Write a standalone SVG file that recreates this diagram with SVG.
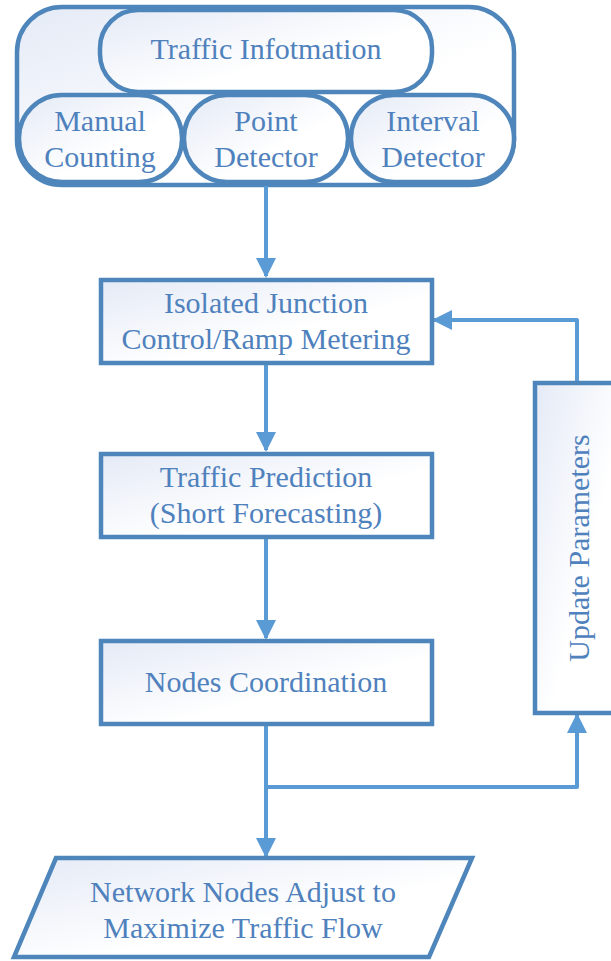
<svg xmlns="http://www.w3.org/2000/svg" width="611" height="961" viewBox="0 0 611 961" font-family="'Liberation Serif', 'DejaVu Serif', serif">
<defs>
<linearGradient id="g" x1="0" y1="0" x2="1" y2="1">
<stop offset="0" stop-color="#e4eaf6"/>
<stop offset="0.6" stop-color="#ffffff"/>
<stop offset="1" stop-color="#ffffff"/>
</linearGradient>
<marker id="ah" markerWidth="5" markerHeight="5" refX="4.5" refY="2.5" orient="auto" markerUnits="strokeWidth">
<path d="M0,0 L5,2.5 L0,5 Z" fill="#5b9bd5"/>
</marker>
<style>
.box{fill:url(#g);stroke:#4e86bb;stroke-width:4.5;}
.t{font-family:'Liberation Serif','Times New Roman',serif;font-size:30px;fill:#4f81bd;text-anchor:middle;}
.c{fill:none;stroke:#5b9bd5;stroke-width:4;stroke-linejoin:round;}
</style>
</defs>
<g id="info">
<rect class="box" x="17" y="7" width="497" height="178" rx="45"/>
<rect class="box" x="100" y="10" width="332" height="82" rx="38"/>
<text class="t" font-family="Liberation Serif, serif" x="266" y="59">Traffic Infotmation</text>
</g>
<g id="manual">
<rect class="box" x="19" y="95" width="163" height="87" rx="43"/>
<text class="t" font-family="Liberation Serif, serif" x="100" y="131">Manual</text>
<text class="t" font-family="Liberation Serif, serif" x="100" y="167">Counting</text>
</g>
<g id="point">
<rect class="box" x="184" y="95" width="164" height="87" rx="43"/>
<text class="t" font-family="Liberation Serif, serif" x="266" y="131">Point</text>
<text class="t" font-family="Liberation Serif, serif" x="266" y="167">Detector</text>
</g>
<g id="interval">
<rect class="box" x="351" y="95" width="163" height="87" rx="43"/>
<text class="t" font-family="Liberation Serif, serif" x="433" y="131">Interval</text>
<text class="t" font-family="Liberation Serif, serif" x="433" y="167">Detector</text>
</g>
<g id="connectors">
<path class="c" d="M266,186 L266,276" marker-end="url(#ah)"/>
<path class="c" d="M266,365 L266,450" marker-end="url(#ah)"/>
<path class="c" d="M266,539 L266,638" marker-end="url(#ah)"/>
<path class="c" d="M266,726 L266,856" marker-end="url(#ah)"/>
<path class="c" d="M266,787 L577,787 L577,715" marker-end="url(#ah)"/>
<path class="c" d="M577,382 L577,320 L434,320" marker-end="url(#ah)"/>
</g>
<g id="ijc">
<rect class="box" x="101" y="280" width="331" height="83"/>
<text class="t" font-family="Liberation Serif, serif" x="266" y="313">Isolated Junction</text>
<text class="t" font-family="Liberation Serif, serif" x="266" y="349">Control/Ramp Metering</text>
</g>
<g id="prediction">
<rect class="box" x="101" y="454" width="331" height="83"/>
<text class="t" font-family="Liberation Serif, serif" x="266" y="487">Traffic Prediction</text>
<text class="t" font-family="Liberation Serif, serif" x="266" y="523">(Short Forecasting)</text>
</g>
<g id="coordination">
<rect class="box" x="101" y="641" width="331" height="83"/>
<text class="t" font-family="Liberation Serif, serif" x="266" y="692">Nodes Coordination</text>
</g>
<g id="update">
<rect class="box" x="535" y="383" width="82" height="330"/>
<text class="t" font-family="Liberation Serif, serif" transform="translate(589,548) rotate(-90)" x="0" y="0">Update Parameters</text>
</g>
<g id="network">
<polygon class="box" points="56,858 472,858 429,957 14,957"/>
<text class="t" font-family="Liberation Serif, serif" x="243" y="902">Network Nodes Adjust to</text>
<text class="t" font-family="Liberation Serif, serif" x="243" y="938">Maximize Traffic Flow</text>
</g>
</svg>
